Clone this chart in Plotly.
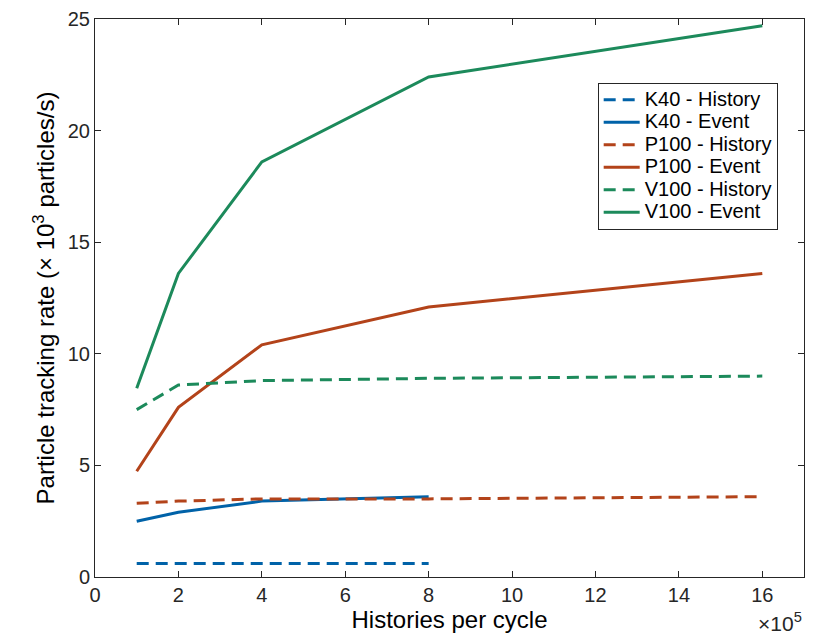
import plotly.graph_objects as go

x_full = [1, 2, 4, 8, 16]
x_k40 = [1, 2, 4, 8]

k40_history = [0.6, 0.6, 0.6, 0.6]
k40_event = [2.5, 2.9, 3.4, 3.6]
p100_history = [3.3, 3.4, 3.5, 3.5, 3.6]
p100_event = [4.74, 7.6, 10.4, 12.1, 13.6]
v100_history = [7.5, 8.6, 8.8, 8.9, 9.0]
v100_event = [8.46, 13.6, 18.6, 22.4, 24.7]

names = ["K40 - History", "K40 - Event", "P100 - History", "P100 - Event",
         "V100 - History", "V100 - Event"]
xs = [x_k40, x_k40, x_full, x_full, x_full, x_full]
ys = [k40_history, k40_event, p100_history, p100_event, v100_history, v100_event]
colors = ["#0062A8", "#0062A8", "#B3431A", "#B3431A", "#1C8A5B", "#1C8A5B"]
dashes = ["12px,7px", "solid", "12px,7px", "solid", "12px,7px", "solid"]

fig = go.Figure()
for n, xv, yv, c, d in zip(names, xs, ys, colors, dashes):
    fig.add_trace(go.Scatter(x=xv, y=yv, mode="lines",
                             name='<span style="font-size:20px">' + n + '</span>',
                             line=dict(color=c, width=3, dash=d)))

axis_common = dict(showline=True, mirror="ticks", ticks="inside", ticklen=6,
                   linecolor="#262626", linewidth=1, tickcolor="#262626",
                   showgrid=False, zeroline=False, automargin=False,
                   tickfont=dict(family="Liberation Sans, Arial", size=20, color="#262626"))

fig.update_layout(
    width=828, height=636,
    margin=dict(l=87, r=32, t=11, b=67, autoexpand=False),
    plot_bgcolor="white", paper_bgcolor="white",
    font=dict(family="Liberation Sans, Arial", color="#000000"),
    xaxis=dict(range=[0, 17], tickvals=[0, 2, 4, 6, 8, 10, 12, 14, 16],
               title=dict(text="Histories per cycle", font=dict(size=24, color="#000"), standoff=2),
               **axis_common),
    yaxis=dict(range=[0, 25], tickvals=[0, 5, 10, 15, 20, 25],
               title=dict(text="Particle tracking rate (× 10<sup>3</sup> particles/s)",
                          font=dict(size=24, color="#000"), standoff=6),
               **axis_common),
    legend=dict(x=0.709, y=0.886, xanchor="left", yanchor="top",
                bgcolor="white", bordercolor="#262626", borderwidth=1,
                font=dict(family="Liberation Sans, Arial", size=15, color="#000"),
                tracegroupgap=0, itemwidth=36),
    showlegend=True,
)

fig.add_annotation(text="×10<sup>5</sup>", xref="paper", yref="paper",
                   x=1.0, y=0, xanchor="right", yanchor="top", yshift=-30,
                   showarrow=False,
                   font=dict(family="Liberation Sans, Arial", size=21, color="#262626"))

fig.write_html("out.html")
